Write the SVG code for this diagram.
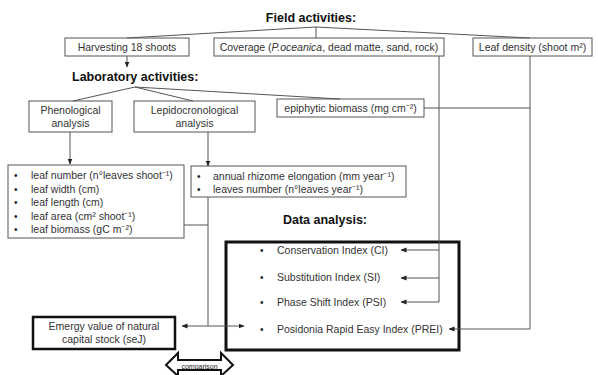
<svg xmlns="http://www.w3.org/2000/svg" width="598" height="375" viewBox="0 0 598 375">
<defs>
<marker id="ah" markerUnits="userSpaceOnUse" markerWidth="6" markerHeight="6" viewBox="0 0 6 6" refX="5.5" refY="3" orient="auto-start-reverse">
<path d="M0,0.5 L6,3 L0,5.5 Z" fill="#222"/>
</marker>
</defs>
<style>
text{font-family:"Liberation Sans",Arial,sans-serif;fill:#333;font-size:10.5px}
.t{font-weight:bold;font-size:12.5px;fill:#111}
.c{text-anchor:middle}
.box{fill:#fff;stroke:#555;stroke-width:1}
.thick{fill:none;stroke:#111;stroke-width:3}
.ln{fill:none;stroke:#555;stroke-width:1}
.b{font-size:10px;fill:#222}
</style>
<rect width="598" height="375" fill="#fff"/>
<g id="field-title"><text class="t c" x="311" y="22">Field activities:</text></g>
<g id="harvesting"><rect class="box" x="65" y="38" width="124" height="18"/><text class="c" x="127" y="51">Harvesting 18 shoots</text></g>
<g id="coverage"><rect class="box" x="214" y="38" width="230" height="18"/><text class="c" x="329" y="51">Coverage (<tspan font-style="italic">P.oceanica</tspan>, dead matte, sand, rock)</text></g>
<g id="leaf-density"><rect class="box" x="473" y="38" width="119" height="18"/><text class="c" x="532.5" y="51">Leaf density (shoot m²)</text></g>
<g id="lab-title"><text class="t" x="72" y="81">Laboratory activities:</text></g>
<g id="phenological"><rect class="box" x="29" y="101" width="83" height="31"/><text class="c" x="70.5" y="114">Phenological</text><text class="c" x="70.5" y="127">analysis</text></g>
<g id="lepidocronological"><rect class="box" x="134" y="101" width="121" height="31"/><text class="c" x="194.5" y="114">Lepidocronological</text><text class="c" x="194.5" y="127">analysis</text></g>
<g id="epiphytic"><rect class="box" x="277" y="99" width="147" height="18"/><text class="c" x="350.5" y="112">epiphytic biomass (mg cm⁻²)</text></g>
<g id="leaf-list"><rect class="box" x="8" y="165" width="176" height="73"/>
<text class="b" x="14" y="179">•</text><text x="31" y="179">leaf number (n°leaves shoot⁻¹)</text>
<text class="b" x="14" y="193">•</text><text x="31" y="193">leaf width (cm)</text>
<text class="b" x="14" y="206">•</text><text x="31" y="206">leaf length (cm)</text>
<text class="b" x="14" y="220">•</text><text x="31" y="220">leaf area (cm² shoot⁻¹)</text>
<text class="b" x="14" y="233">•</text><text x="31" y="233">leaf biomass (gC m⁻²)</text>
</g>
<g id="rhizome-list"><rect class="box" x="191" y="166" width="215" height="31"/>
<text class="b" x="197" y="180">•</text><text x="213" y="180">annual rhizome elongation (mm year⁻¹)</text>
<text class="b" x="197" y="193">•</text><text x="213" y="193">leaves number (n°leaves year⁻¹)</text>
</g>
<g id="data-title"><text class="t c" x="325" y="224">Data analysis:</text></g>
<g id="data-analysis"><rect class="thick" x="226" y="242" width="233" height="108"/>
<text class="b" x="260" y="254">•</text><text x="277" y="254">Conservation Index (CI)</text>
<text class="b" x="260" y="281">•</text><text x="277" y="281">Substitution Index (SI)</text>
<text class="b" x="260" y="306">•</text><text x="277" y="306">Phase Shift Index (PSI)</text>
<text class="b" x="260" y="333">•</text><text x="277" y="333">Posidonia Rapid Easy Index (PREI)</text>
</g>
<g id="emergy"><rect x="33" y="317" width="142" height="32" fill="#fff" stroke="#111" stroke-width="2.5"/><text class="c" x="104" y="330">Emergy value of natural</text><text class="c" x="104" y="343">capital stock (seJ)</text></g>
<g id="comparison"><path d="M166,365 L178,353 L178,360 L221,360 L221,353 L233,365 L221,376 L221,370 L178,370 L178,376 Z" fill="#fff" stroke="#111" stroke-width="2"/><text class="c" x="199.5" y="368.5" style="font-size:7px;fill:#222">comparison</text></g>
<g id="connectors">
<path class="ln" d="M127,38 L316,27 L530,38"/>
<path class="ln" d="M316,27 V38"/>
<path class="ln" d="M127,56 V67" marker-end="url(#ah)"/>
<path class="ln" d="M73,101 L135,87 L193,101"/>
<path class="ln" d="M135,87 L340,99"/>
<path class="ln" d="M70,132 V164" marker-end="url(#ah)"/>
<path class="ln" d="M208,132 V166" marker-end="url(#ah)"/>
<path class="ln" d="M424,108 H530"/>
<path class="ln" d="M530,56 V329 H449" marker-end="url(#ah)"/>
<path class="ln" d="M439,56 V302 H401" marker-end="url(#ah)"/>
<path class="ln" d="M439,250 H401" marker-end="url(#ah)"/>
<path class="ln" d="M439,278 H401" marker-end="url(#ah)"/>
<path class="ln" d="M208,197 V326"/>
<path class="ln" d="M184,225 H208"/>
<path class="ln" d="M182,326 H244" marker-start="url(#ah)" marker-end="url(#ah)"/>
</g>
</svg>
